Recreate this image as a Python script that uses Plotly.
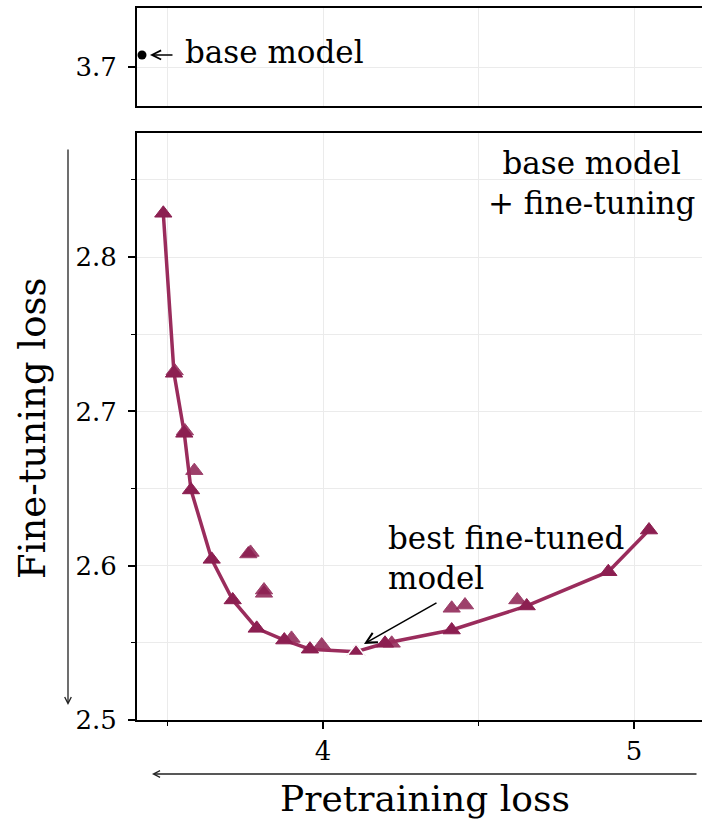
import plotly.graph_objects as go
from plotly.subplots import make_subplots

# Fine-tuning runs on the lower envelope (connected by the line)
frontier_pretrain = [3.4865, 3.5209, 3.5540, 3.5756, 3.6421, 3.7096, 3.7868,
                     3.8756, 3.9580, 4.1061, 4.1994, 4.4138, 4.6550, 4.9174, 5.0482]
frontier_finetune = [2.8284, 2.7247, 2.6858, 2.6491, 2.6041, 2.5778, 2.5594,
                     2.5518, 2.5459, 2.5443, 2.5497, 2.5583, 2.5739, 2.5961, 2.6231]

# Remaining fine-tuning runs
other_pretrain = [3.5230, 3.5560, 3.5862, 3.7598, 3.7669, 3.8103, 3.8103,
                  3.8987, 3.9958, 4.2209, 4.4138, 4.4566, 4.6248]
other_finetune = [2.7262, 2.6873, 2.6616, 2.6076, 2.6086, 2.5821, 2.5842,
                  2.5529, 2.5486, 2.5497, 2.5724, 2.5745, 2.5778]

# Best fine-tuned model
best_pretrain = [4.1061]
best_finetune = [2.5443]

# Base model (before fine-tuning)
base_pretrain = [3.418]
base_finetune = [3.7078]

W, H = 702, 819
L, R, T, B = 137, 0, 8, 99
plot_w = W - L - R
plot_h = H - T - B

LINE_COLOR = "#9a2c5c"
MARK_COLOR = "#8c1f51"
FONT = "DejaVu Serif"
MSIZE = 15

fig = make_subplots(rows=2, cols=1, shared_xaxes=False, vertical_spacing=0.0)

fig.add_trace(go.Scatter(x=base_pretrain, y=base_finetune, mode="markers",
                         marker=dict(color="black", size=9),
                         showlegend=False, cliponaxis=False), row=1, col=1)

fig.add_trace(go.Scatter(x=other_pretrain, y=other_finetune, mode="markers",
                         marker=dict(symbol="triangle-up", size=MSIZE, color=MARK_COLOR,
                                     opacity=0.85, line=dict(color=MARK_COLOR, width=1)),
                         showlegend=False), row=2, col=1)

fig.add_trace(go.Scatter(x=frontier_pretrain, y=frontier_finetune, mode="lines+markers",
                         line=dict(color=LINE_COLOR, width=3.5),
                         marker=dict(symbol="triangle-up", size=MSIZE, color=MARK_COLOR,
                                     line=dict(color=MARK_COLOR, width=1)),
                         showlegend=False), row=2, col=1)

fig.add_trace(go.Scatter(x=best_pretrain, y=best_finetune, mode="markers",
                         marker=dict(symbol="triangle-up", size=MSIZE, color=MARK_COLOR,
                                     line=dict(color="white", width=1.5)),
                         showlegend=False), row=2, col=1)

x_range = [4 + (L - 323) / 311, 4 + (W - 323) / 311]

bottom_top_px = 133
top_bottom_px = 106
dom_bottom = [0, (H - B - bottom_top_px) / plot_h]
dom_top = [(H - B - top_bottom_px) / plot_h, 1]

px_per_unit = 1543
y_bottom_range = [2.5, 2.5 + (H - B - bottom_top_px) / px_per_unit]
y_top_range = [3.7 - (top_bottom_px - 67) / px_per_unit, 3.7 + (67 - T) / px_per_unit]

grid = "#ebebeb"
axis_common = dict(showline=True, linecolor="black", linewidth=2,
                   showgrid=True, gridcolor=grid, gridwidth=1, zeroline=False,
                   tickfont=dict(family=FONT, size=26, color="black"),
                   ticks="outside", ticklen=7, tickwidth=1.5, tickcolor="black")

fig.update_xaxes(range=x_range, tickvals=[4, 5], ticktext=["4", "5"],
                 minor=dict(tickvals=[3.5, 4.5], ticks="outside", ticklen=4,
                            tickcolor="black", tickwidth=1.2, showgrid=True, gridcolor=grid),
                 mirror=True, **axis_common, row=2, col=1)
fig.update_yaxes(range=y_bottom_range, domain=dom_bottom,
                 tickvals=[2.5, 2.6, 2.7, 2.8], ticktext=["2.5", "2.6", "2.7", "2.8"],
                 ticklabelstandoff=6,
                 minor=dict(tickvals=[2.55, 2.65, 2.75, 2.85], ticks="outside", ticklen=4,
                            tickcolor="black", tickwidth=1.2, showgrid=True, gridcolor=grid),
                 **axis_common, row=2, col=1)

fig.update_xaxes(range=x_range, tickvals=[3.5, 4, 4.5, 5], showticklabels=False,
                 mirror=True, **{**axis_common, "ticks": ""}, row=1, col=1)
fig.update_yaxes(range=y_top_range, domain=dom_top, tickvals=[3.7], ticktext=["3.7"],
                 ticklabelstandoff=6, **axis_common, row=1, col=1)

def px_to_paper_x(px):
    return (px - L) / plot_w

def px_to_paper_y(py):
    return (H - B - py) / plot_h

annotations = [
    # base model label and arrow (top panel)
    dict(x=3.550, y=3.7097, xref="x", yref="y", text="base model", showarrow=False,
         xanchor="left", yanchor="middle", font=dict(family=FONT, size=31, color="black")),
    dict(x=3.4437, y=3.7078, xref="x", yref="y", text="", showarrow=True,
         ax=24, ay=0, arrowhead=5, arrowsize=1.2, arrowwidth=1.5, arrowcolor="black"),
    # panel label
    dict(x=px_to_paper_x(591), y=px_to_paper_y(183), xref="paper", yref="paper",
         text="base model<br>+ fine-tuning", showarrow=False, align="center",
         xanchor="center", yanchor="middle", font=dict(family=FONT, size=31, color="black")),
    # best model label and arrow
    dict(x=4.203, y=2.605, xref="x2", yref="y2", text="best fine-tuned<br>model",
         showarrow=False, align="left", xanchor="left", yanchor="middle",
         font=dict(family=FONT, size=31, color="black")),
    dict(x=4.1318, y=2.5493, xref="x2", yref="y2", text="", showarrow=True,
         ax=74, ay=-42, arrowhead=5, arrowsize=1.4, arrowwidth=1.5, arrowcolor="black"),
    # axis titles
    dict(x=px_to_paper_x(425), y=px_to_paper_y(798), xref="paper", yref="paper",
         text="Pretraining loss", showarrow=False, xanchor="center", yanchor="middle",
         font=dict(family=FONT, size=36, color="black")),
    dict(x=px_to_paper_x(33), y=px_to_paper_y(429), xref="paper", yref="paper",
         text="Fine-tuning loss", showarrow=False, textangle=-90,
         xanchor="center", yanchor="middle", font=dict(family=FONT, size=37, color="black")),
    # direction arrows (lower is better)
    dict(x=px_to_paper_x(68), y=px_to_paper_y(705), xref="paper", yref="paper",
         text="", showarrow=True, ax=0, ay=-557, arrowhead=5, arrowsize=1,
         arrowwidth=1.3, arrowcolor="#222222"),
    dict(x=px_to_paper_x(152), y=px_to_paper_y(774), xref="paper", yref="paper",
         text="", showarrow=True, ax=546, ay=0, arrowhead=5, arrowsize=1,
         arrowwidth=1.3, arrowcolor="#222222"),
]

fig.update_layout(width=W, height=H, margin=dict(l=L, r=R, t=T, b=B),
                  plot_bgcolor="white", paper_bgcolor="white",
                  font=dict(family=FONT, color="black"),
                  annotations=annotations, showlegend=False)

fig.write_html("out.html")
